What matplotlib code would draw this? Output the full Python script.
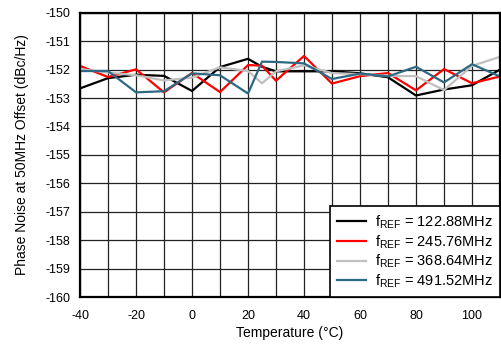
import matplotlib
matplotlib.use("Agg")
import matplotlib.pyplot as plt
import numpy as np

plt.rcParams['font.family'] = ['Liberation Sans', 'DejaVu Sans']
plt.rcParams['mathtext.default'] = 'regular'
plt.rcParams['axes.unicode_minus'] = False

# Temperature points (°C)
temps = [-40, -30, -20, -10, 0, 10, 20, 25, 30, 40, 50, 60, 70, 80, 90, 100, 110]

# Phase noise at 50MHz offset (dBc/Hz), one list per reference frequency
pn_122 = [-152.66, -152.30, -152.18, -152.22, -152.75, -151.91, -151.62, -151.90, -152.06,
          -152.06, -152.06, -152.13, -152.27, -152.91, -152.70, -152.55, -152.00]
pn_245 = [-151.87, -152.26, -151.99, -152.80, -152.12, -152.79, -151.84, -151.86, -152.39,
          -151.52, -152.49, -152.23, -152.12, -152.73, -151.98, -152.48, -152.24]
pn_368 = [-151.98, -152.10, -152.20, -152.38, -152.28, -151.92, -152.05, -152.48, -152.06,
          -151.85, -152.12, -152.16, -152.22, -152.23, -152.72, -151.87, -151.55]
pn_491 = [-152.05, -152.05, -152.80, -152.76, -152.13, -152.20, -152.84, -151.72, -151.73,
          -151.78, -152.33, -152.14, -152.24, -151.90, -152.45, -151.81, -152.24]

labels = [r'f$_{REF}$ = 122.88MHz', r'f$_{REF}$ = 245.76MHz',
          r'f$_{REF}$ = 368.64MHz', r'f$_{REF}$ = 491.52MHz']
colors = ['black', '#FF0000', '#C0C0C0', '#2E6882']

fig = plt.figure(figsize=(5.02, 3.45), dpi=100)
ax = fig.add_axes([0.1594, 0.139, 0.8366, 0.824])

for vals, lab, col in zip([pn_122, pn_245, pn_368, pn_491], labels, colors):
    ax.plot(temps, vals, color=col, lw=1.6, label=lab)

ax.set_xlim(-40, 110)
ax.set_ylim(-160, -150)
ax.set_xticks(np.arange(-40, 101, 20))
ax.set_xticks(np.arange(-40, 111, 10), minor=True)
ax.set_yticks(np.arange(-160, -149, 1))
ax.tick_params(which='both', length=0, labelsize=9)
ax.tick_params(axis='x', pad=9)
ax.tick_params(axis='y', pad=7)
ax.grid(which='both', color='#222222', lw=0.9)
ax.set_axisbelow(True)
for s in ax.spines.values():
    s.set_linewidth(1.6)

ax.set_xlabel('Temperature (°C)', fontsize=10, labelpad=3)
ax.set_ylabel('Phase Noise at 50MHz Offset (dBc/Hz)', fontsize=10, labelpad=12)

leg = ax.legend(loc='lower right', borderaxespad=0, fontsize=10.5, fancybox=False,
                framealpha=1, edgecolor='black', labelspacing=0.15,
                handlelength=2.0, handletextpad=0.6, borderpad=0.5)
leg.get_frame().set_linewidth(1.2)

fig.savefig('out.png', dpi=100)
